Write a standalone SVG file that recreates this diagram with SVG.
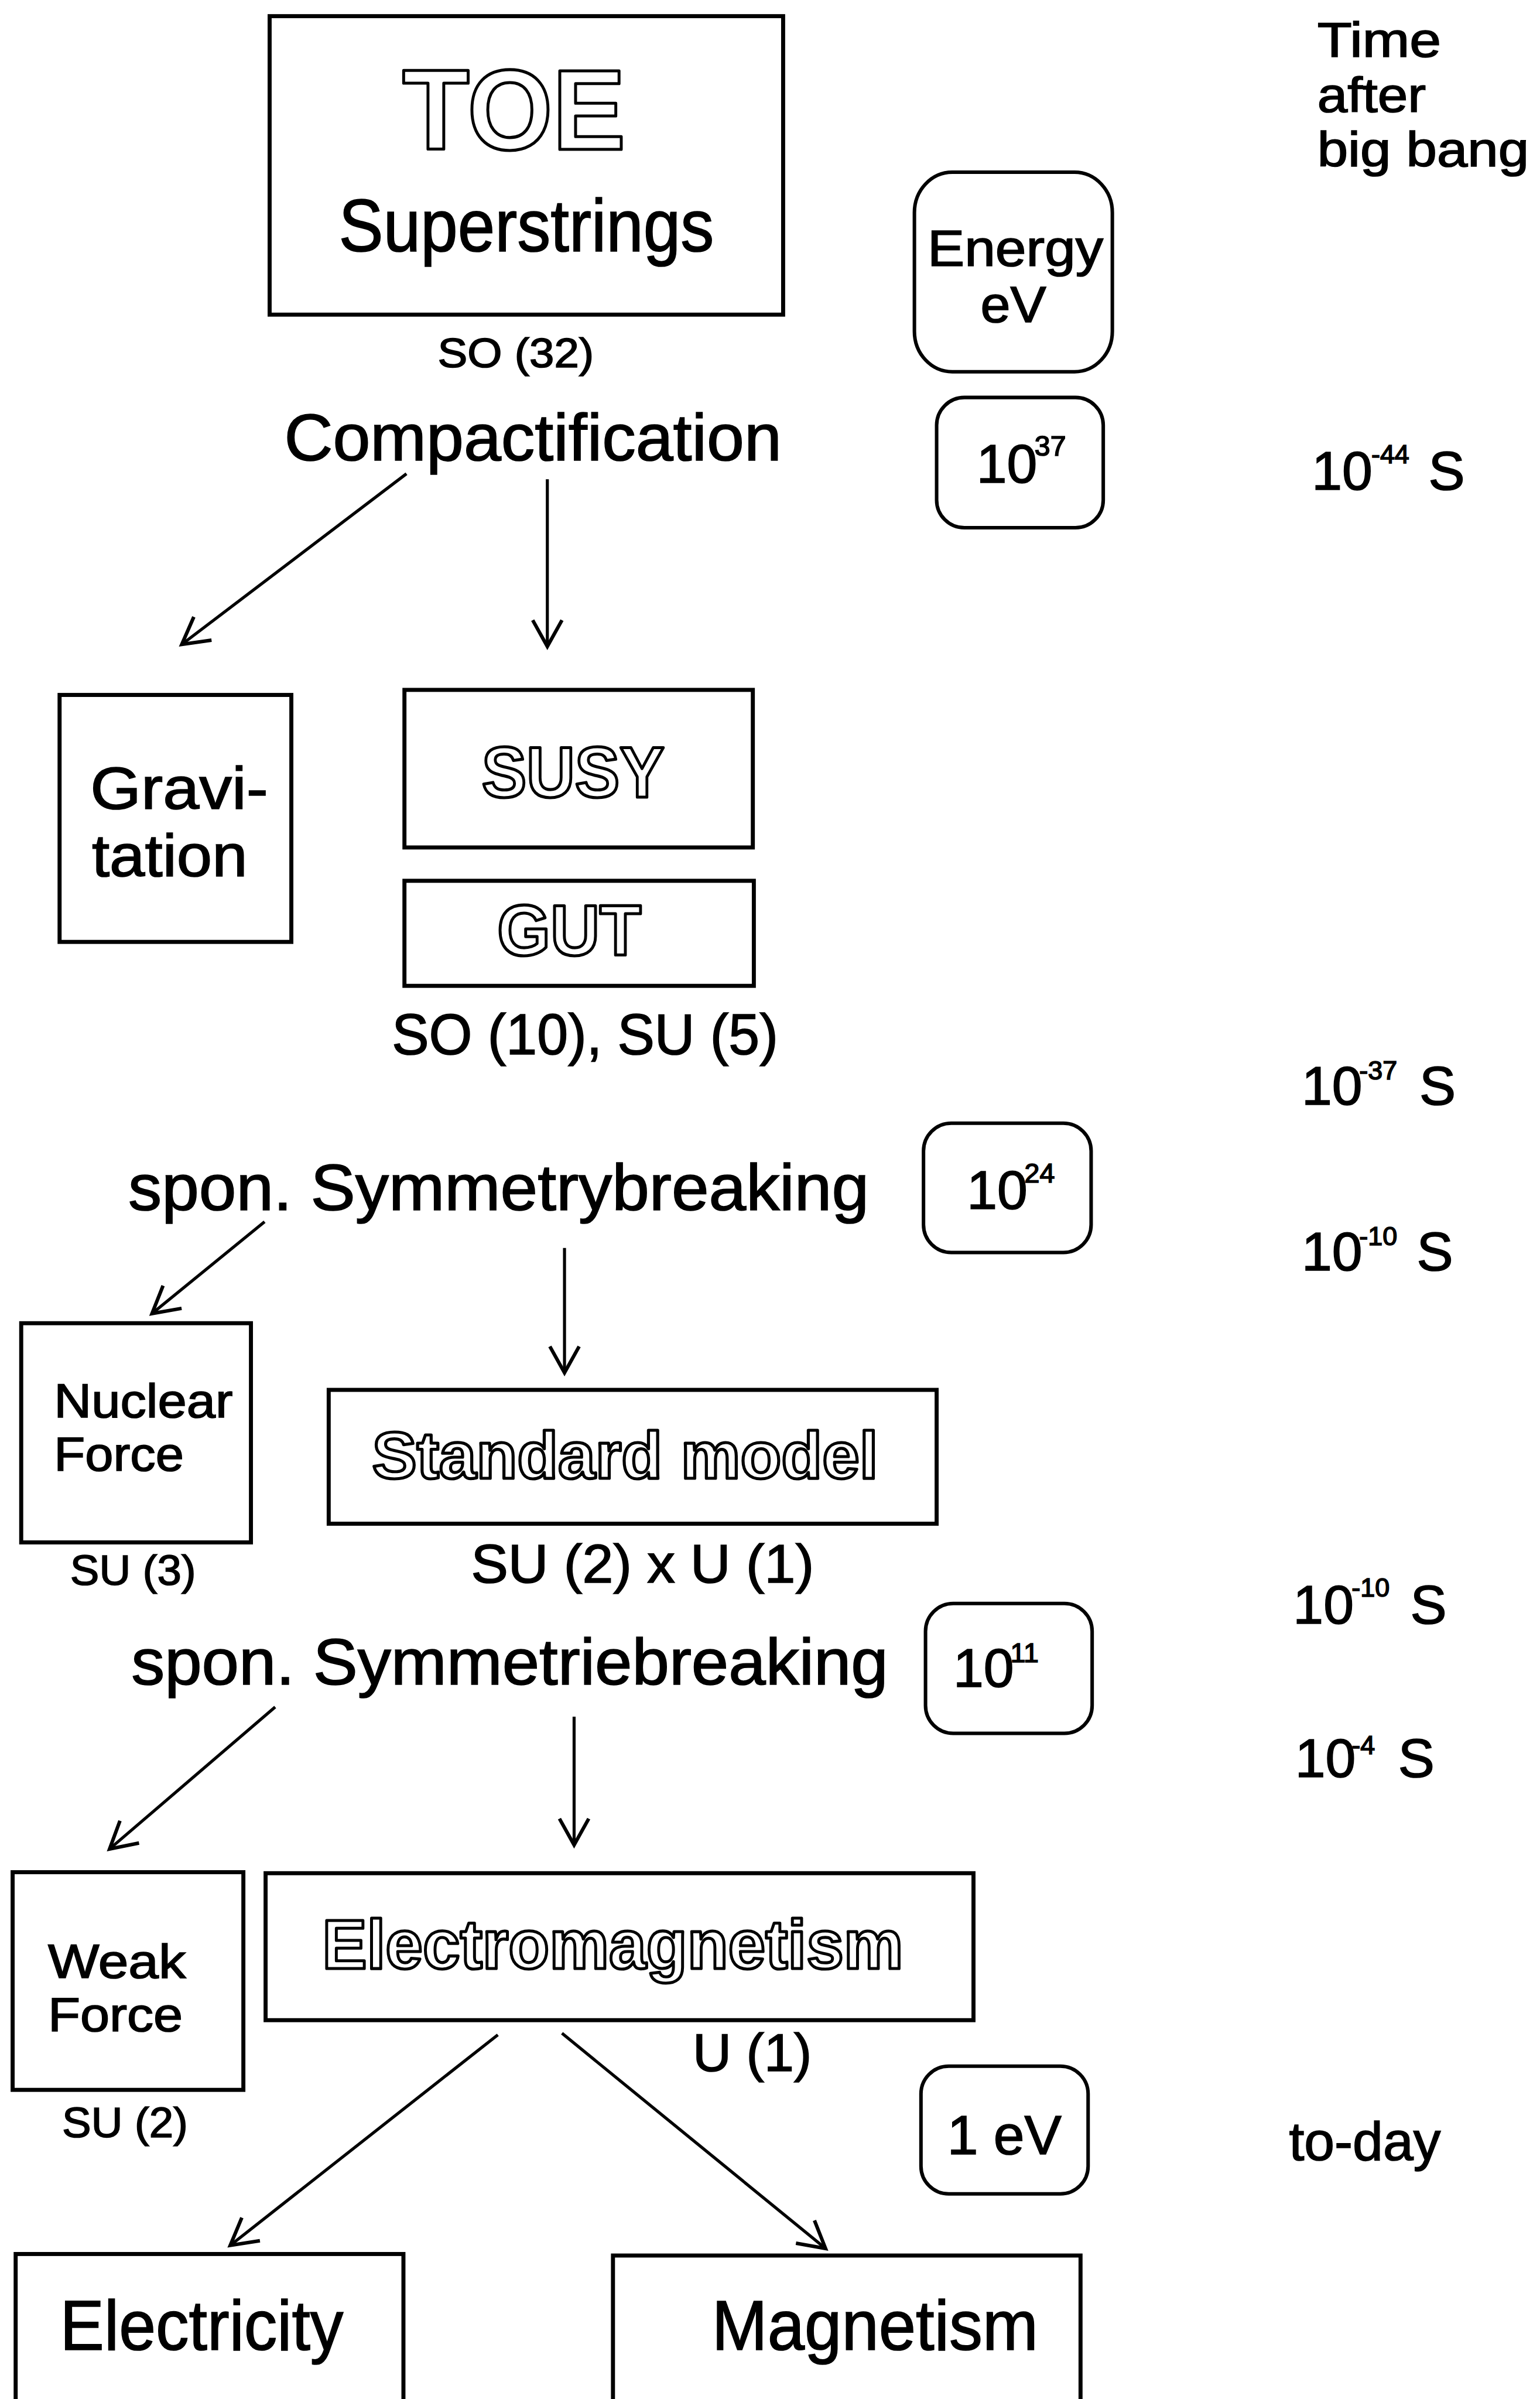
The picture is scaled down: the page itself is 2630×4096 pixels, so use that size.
<svg xmlns="http://www.w3.org/2000/svg" width="2630" height="4096" viewBox="0 0 2630 4096">
<style>
text{font-family:"Liberation Sans",Arial,Helvetica,sans-serif;fill:#000;stroke:#000;stroke-width:2}
.box{fill:none;stroke:#000;stroke-width:8}
.rbox{fill:none;stroke:#000;stroke-width:7}
text.ol{font-weight:bold;fill:#fff;stroke:#000;stroke-width:6;stroke-linejoin:round}
.conn{fill:none;stroke:#000;stroke-width:6}
</style>
<defs>
<marker id="arr" markerUnits="userSpaceOnUse" viewBox="-60 -40 75 80" refX="0" refY="0" markerWidth="75" markerHeight="80" orient="auto">
<path d="M -52 -29 L 0 0 L -52 29" fill="none" stroke="#000" stroke-width="7"/>
</marker>
</defs>
<rect width="2630" height="4096" fill="#fff"/>
<g transform="scale(0.8623)">
<g id="connectors">
<line class="conn" x1="805" y1="938" x2="360" y2="1276" marker-end="url(#arr)"/>
<line class="conn" x1="1084" y1="949" x2="1084" y2="1280" marker-end="url(#arr)"/>
<line class="conn" x1="524" y1="2419" x2="301" y2="2601" marker-end="url(#arr)"/>
<line class="conn" x1="1118" y1="2471" x2="1118" y2="2718" marker-end="url(#arr)"/>
<line class="conn" x1="545" y1="3380" x2="217" y2="3661" marker-end="url(#arr)"/>
<line class="conn" x1="1137" y1="3399" x2="1137" y2="3653" marker-end="url(#arr)"/>
<line class="conn" x1="986" y1="4029" x2="456" y2="4446" marker-end="url(#arr)"/>
<line class="conn" x1="1113" y1="4026" x2="1635" y2="4452" marker-end="url(#arr)"/>
</g>
<g id="toe">
<rect class="box" x="534" y="32" width="1017" height="591"/>
<text class="ol" x="797" y="296" font-size="226" textLength="442" lengthAdjust="spacingAndGlyphs">TOE</text>
<text x="671" y="498" font-size="146" textLength="743" lengthAdjust="spacingAndGlyphs">Superstrings</text>
</g>
<text id="so32" x="867" y="727" font-size="81" textLength="309" lengthAdjust="spacingAndGlyphs">SO (32)</text>
<g id="energy">
<rect class="rbox" x="1811" y="341" width="392" height="395" rx="75" ry="80"/>
<text x="1837" y="526" font-size="100" textLength="348" lengthAdjust="spacingAndGlyphs">Energy</text>
<text x="1942" y="638" font-size="100" textLength="130" lengthAdjust="spacingAndGlyphs">eV</text>
</g>
<g id="time-header">
<text x="2609" y="113" font-size="96" textLength="245" lengthAdjust="spacingAndGlyphs">Time</text>
<text x="2609" y="221" font-size="96" textLength="215" lengthAdjust="spacingAndGlyphs">after</text>
<text x="2609" y="329" font-size="96" textLength="419" lengthAdjust="spacingAndGlyphs">big bang</text>
</g>
<text id="compactification" x="563" y="912" font-size="131" textLength="985" lengthAdjust="spacingAndGlyphs">Compactification</text>
<g id="e37">
<rect class="rbox" x="1855" y="787" width="330" height="258" rx="55"/>
<text x="1934" y="956" font-size="108">10<tspan x="2049" y="902" font-size="56">37</tspan></text>
</g>
<text id="t44" x="2598" y="969" font-size="108">10<tspan x="2716" y="917" font-size="52">-44</tspan><tspan x="2829" y="969">S</tspan></text>
<g id="gravitation">
<rect class="box" x="118" y="1376" width="459" height="489"/>
<text x="179" y="1601" font-size="119" textLength="352" lengthAdjust="spacingAndGlyphs">Gravi-</text>
<text x="182" y="1735" font-size="119" textLength="308" lengthAdjust="spacingAndGlyphs">tation</text>
</g>
<g id="susy">
<rect class="box" x="801" y="1366" width="690" height="312"/>
<text class="ol" x="954" y="1578" font-size="142" textLength="362" lengthAdjust="spacingAndGlyphs">SUSY</text>
</g>
<g id="gut">
<rect class="box" x="801" y="1744" width="692" height="208"/>
<text class="ol" x="985" y="1892" font-size="142" textLength="285" lengthAdjust="spacingAndGlyphs">GUT</text>
</g>
<text id="so10su5" x="776" y="2088" font-size="113" textLength="765" lengthAdjust="spacingAndGlyphs">SO (10), SU (5)</text>
<text id="t37" x="2578" y="2187" font-size="108">10<tspan x="2692" y="2137" font-size="52">-37</tspan><tspan x="2811" y="2187">S</tspan></text>
<text id="spon1" x="254" y="2396" font-size="128" textLength="1467" lengthAdjust="spacingAndGlyphs">spon. Symmetrybreaking</text>
<g id="e24">
<rect class="rbox" x="1829" y="2224" width="332" height="256" rx="55"/>
<text x="1915" y="2394" font-size="108">10<tspan x="2029" y="2342" font-size="54">24</tspan></text>
</g>
<text id="t10a" x="2578" y="2515" font-size="108">10<tspan x="2692" y="2465" font-size="52">-10</tspan><tspan x="2806" y="2515">S</tspan></text>
<g id="nuclear">
<rect class="box" x="42" y="2620" width="455" height="434"/>
<text x="107" y="2806" font-size="94" textLength="354" lengthAdjust="spacingAndGlyphs">Nuclear</text>
<text x="107" y="2912" font-size="94" textLength="257" lengthAdjust="spacingAndGlyphs">Force</text>
</g>
<text id="su3" x="139" y="3138" font-size="84" textLength="249" lengthAdjust="spacingAndGlyphs">SU (3)</text>
<g id="standard">
<rect class="box" x="651" y="2752" width="1204" height="265"/>
<text class="ol" x="737" y="2927" font-size="131" textLength="1002" lengthAdjust="spacingAndGlyphs">Standard model</text>
</g>
<text id="su2u1" x="933" y="3133" font-size="108" textLength="679" lengthAdjust="spacingAndGlyphs">SU (2) x U (1)</text>
<text id="t10b" x="2561" y="3215" font-size="108">10<tspan x="2677" y="3161" font-size="52">-10</tspan><tspan x="2793" y="3215">S</tspan></text>
<text id="spon2" x="260" y="3335" font-size="128" textLength="1499" lengthAdjust="spacingAndGlyphs">spon. Symmetriebreaking</text>
<g id="e11">
<rect class="rbox" x="1833" y="3175" width="330" height="257" rx="55"/>
<text x="1888" y="3340" font-size="108">10<tspan x="2001" y="3291" font-size="54">11</tspan></text>
</g>
<text id="t4" x="2565" y="3519" font-size="108">10<tspan x="2677" y="3473" font-size="52">-4</tspan><tspan x="2769" y="3519">S</tspan></text>
<g id="weak">
<rect class="box" x="25" y="3707" width="457" height="431"/>
<text x="95" y="3916" font-size="94" textLength="273" lengthAdjust="spacingAndGlyphs">Weak</text>
<text x="95" y="4022" font-size="94" textLength="267" lengthAdjust="spacingAndGlyphs">Force</text>
</g>
<text id="su2" x="123" y="4232" font-size="84" textLength="249" lengthAdjust="spacingAndGlyphs">SU (2)</text>
<g id="electromagnetism">
<rect class="box" x="526" y="3709" width="1402" height="291"/>
<text class="ol" x="638" y="3898" font-size="138" textLength="1151" lengthAdjust="spacingAndGlyphs">Electromagnetism</text>
</g>
<text id="u1" x="1372" y="4101" font-size="106">U (1)</text>
<g id="e1">
<rect class="rbox" x="1824" y="4091" width="331" height="253" rx="55"/>
<text x="1876" y="4265" font-size="110">1 eV</text>
</g>
<text id="today" x="2553" y="4277" font-size="108">to-day</text>
<g id="electricity">
<rect class="box" x="31" y="4463" width="768" height="400"/>
<text x="119" y="4653" font-size="140" textLength="561" lengthAdjust="spacingAndGlyphs">Electricity</text>
</g>
<g id="magnetism">
<rect class="box" x="1214" y="4466" width="926" height="400"/>
<text x="1410" y="4653" font-size="140" textLength="646" lengthAdjust="spacingAndGlyphs">Magnetism</text>
</g>
</g>
</svg>
